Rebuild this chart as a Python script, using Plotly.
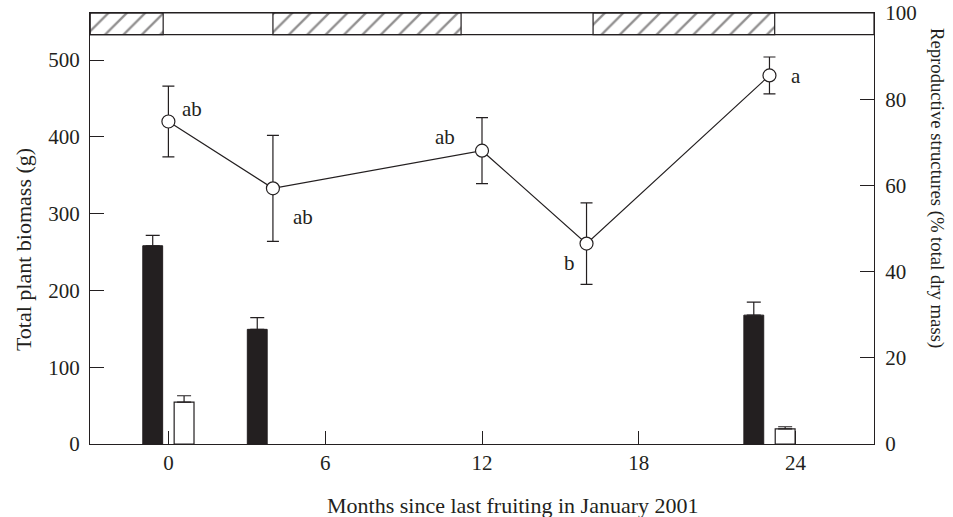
import plotly.graph_objects as go

# ---- data ----
months = [0, 4, 12, 16, 23]
biomass_g = [420, 333, 382, 261, 480]
biomass_err = [46, 69, 43, 53, 24]
sig_letters = ["ab", "ab", "ab", "b", "a"]

black_months = [0, 4, 23]
black_pct = [46.0, 26.6, 29.9]
black_err = [2.4, 2.7, 3.0]

white_months = [0, 23]
white_pct = [9.7, 3.5]
white_err = [1.5, 0.5]

season_start = [-3.0, 4.0, 16.25]
season_end = [-0.2, 11.2, 23.2]

x_ticks = [0, 6, 12, 18, 24]
y_ticks = [0, 100, 200, 300, 400, 500]
y2_ticks = [0, 20, 40, 60, 80, 100]

x_title = "Months since last fruiting in January 2001"
y_title = "Total plant biomass (g)"
y2_title = "Reproductive structures (% total dry mass)"

# ---- style ----
INK = "#231f20"
FONT = "Liberation Serif"
TICK_SIZE = 21
BAND_LOW, BAND_HIGH = 95, 100
BAR_W = 0.76
BAR_SHIFT = 0.6
label_shifts = [(24, 13), (30, -29), (-37, 14), (-17, -19), (27, -1)]

fig = go.Figure()

# hatched season band
fig.add_trace(go.Bar(
    x=season_start,
    y=[BAND_HIGH - BAND_LOW] * len(season_start),
    base=[BAND_LOW] * len(season_start),
    width=[e - s for s, e in zip(season_start, season_end)],
    offset=0,
    yaxis="y2",
    marker=dict(color="white", line=dict(color=INK, width=1.2),
                pattern=dict(shape="/", fgcolor=INK, bgcolor="white",
                             size=13, solidity=0.18)),
    hoverinfo="skip", showlegend=False,
))

# black bars
fig.add_trace(go.Bar(
    x=black_months, y=black_pct, yaxis="y2",
    width=BAR_W, offset=-BAR_SHIFT - BAR_W / 2,
    marker=dict(color=INK, line=dict(color=INK, width=1)),
    error_y=dict(type="data", array=black_err, arrayminus=[0] * len(black_err),
                 symmetric=False, color=INK, thickness=1.2, width=7),
    showlegend=False,
))

# white bars
fig.add_trace(go.Bar(
    x=white_months, y=white_pct, yaxis="y2",
    width=BAR_W, offset=BAR_SHIFT - BAR_W / 2,
    marker=dict(color="white", line=dict(color=INK, width=1.2)),
    error_y=dict(type="data", array=white_err, arrayminus=[0] * len(white_err),
                 symmetric=False, color=INK, thickness=1.2, width=7),
    showlegend=False,
))

# biomass line
fig.add_trace(go.Scatter(
    x=months, y=biomass_g, yaxis="y",
    mode="lines+markers",
    line=dict(color=INK, width=1.2),
    marker=dict(symbol="circle", size=13, color="white",
                line=dict(color=INK, width=1.2)),
    error_y=dict(type="data", array=biomass_err, color=INK,
                 thickness=1.2, width=6),
    showlegend=False,
))

annotations = []
for xm, ym, lab, (dx, dy) in zip(months, biomass_g, sig_letters, label_shifts):
    annotations.append(dict(x=xm, y=ym, xref="x", yref="y", text=lab,
                            showarrow=False, xshift=dx, yshift=dy,
                            font=dict(family=FONT, size=21, color=INK)))

annotations += [
    dict(text=x_title, xref="paper", yref="paper", x=0.54, y=0,
         yshift=-61, showarrow=False, xanchor="center", yanchor="middle",
         font=dict(family=FONT, size=22, color=INK)),
    dict(text=y_title, xref="paper", yref="paper", x=0, y=0.45,
         xshift=-67, showarrow=False, textangle=-90,
         xanchor="center", yanchor="middle",
         font=dict(family=FONT, size=22, color=INK)),
    dict(text=y2_title, xref="paper", yref="paper", x=1, y=0.594,
         xshift=63, showarrow=False, textangle=90,
         xanchor="center", yanchor="middle",
         font=dict(family=FONT, size=18.7, color=INK)),
]

# band frame
shapes = [dict(type="rect", xref="paper", yref="y2", x0=0, x1=1,
               y0=BAND_LOW, y1=BAND_HIGH, line=dict(color=INK, width=1.2),
               fillcolor="rgba(0,0,0,0)", layer="above")]

fig.update_layout(
    width=953, height=517,
    margin=dict(l=89.5, r=78.7, t=13, b=73, autoexpand=False),
    paper_bgcolor="white", plot_bgcolor="white",
    barmode="overlay",
    font=dict(family=FONT, size=TICK_SIZE, color=INK),
    annotations=annotations,
    shapes=shapes,
    xaxis=dict(range=[-3, 27], tickvals=x_ticks, ticks="inside", ticklen=13,
               tickwidth=1.2, tickcolor=INK, showline=True, linecolor=INK,
               linewidth=1.2, mirror=True, showgrid=False, zeroline=False,
               automargin=False, ticklabelstandoff=0,
               tickfont=dict(family=FONT, size=TICK_SIZE, color=INK)),
    yaxis=dict(range=[0, 561.3], tickvals=y_ticks, ticks="inside", ticklen=14,
               tickwidth=1.2, tickcolor=INK, showline=True, linecolor=INK,
               linewidth=1.2, showgrid=False, zeroline=False,
               ticklabelstandoff=5, automargin=False,
               tickfont=dict(family=FONT, size=TICK_SIZE, color=INK)),
    yaxis2=dict(range=[0, 100], tickvals=y2_ticks, ticks="inside", ticklen=14,
                tickwidth=1.2, tickcolor=INK, showline=True, linecolor=INK,
                linewidth=1.2, showgrid=False, zeroline=False,
                overlaying="y", side="right", ticklabelstandoff=6,
                automargin=False,
                tickfont=dict(family=FONT, size=TICK_SIZE, color=INK)),
)

fig.write_html("out.html",
               config={"displayModeBar": False},
               post_script="document.body.style.margin='0';"
                           "document.body.style.overflow='hidden';")
